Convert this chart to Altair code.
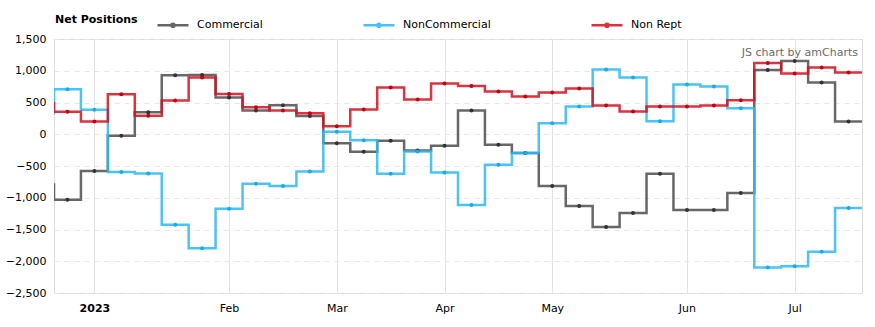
import altair as alt
import pandas as pd

# Weekly report dates (first one sits just left of the visible window)
dates = [
    "2022-12-20", "2022-12-27", "2023-01-03", "2023-01-10", "2023-01-17", "2023-01-24",
    "2023-01-31", "2023-02-07", "2023-02-14", "2023-02-21", "2023-02-28", "2023-03-07",
    "2023-03-14", "2023-03-21", "2023-03-28", "2023-04-04", "2023-04-11", "2023-04-18",
    "2023-04-25", "2023-05-02", "2023-05-09", "2023-05-16", "2023-05-23", "2023-05-30",
    "2023-06-06", "2023-06-13", "2023-06-20", "2023-06-27", "2023-07-04", "2023-07-11",
    "2023-07-18",
]
commercial = [-790, -1030, -580, -25, 345, 930, 935, 580, 373, 458, 289, -143, -275, -101,
              -254, -180, 373, -165, -296, -813, -1129, -1461, -1240, -623, -1193, -1193,
              -924, 1011, 1153, 815, 199]
noncommercial = [330, 710, 385, -595, -620, -1425, -1795, -1175, -781, -813, -586, 41, -96,
                 -623, -270, -602, -1113, -481, -294, 173, 436, 1021, 894, 205, 784, 752,
                 410, -2098, -2077, -1851, -1161]
nonrept = [490, 355, 200, 630, 290, 530, 895, 635, 426, 373, 331, 126, 389, 737, 547, 800,
           758, 673, 594, 657, 721, 452, 357, 436, 436, 452, 537, 1122, 958, 1053, 974]

series_names = ["Commercial", "NonCommercial", "Non Rept"]
series_colors = ["#4d4d4d", "#2bb8f5", "#d2101f"]
point_colors = ["#333333", "#1aa9ea", "#c4000f"]
month_ticks = [(2023, 1, 3), (2023, 2, 7), (2023, 3, 7), (2023, 4, 4),
               (2023, 5, 2), (2023, 6, 6), (2023, 7, 4)]
y_ticks = [-2500, -2000, -1500, -1000, -500, 0, 500, 1000, 1500]

rows = []
for name, vals in zip(series_names, [commercial, noncommercial, nonrept]):
    for i, (d, v) in enumerate(zip(dates, vals)):
        rows.append({"date": d, "series": name, "value": v, "idx": i})
df = pd.DataFrame(rows)

FONT = "DejaVu Sans"
x_scale = alt.Scale(
    type="utc",
    domain=[alt.DateTime(year=2022, month=12, date=23, hours=12, utc=True),
            alt.DateTime(year=2023, month=7, date=21, hours=12, utc=True)],
)
y_scale = alt.Scale(domain=[-2500, 1500], nice=False, zero=False)

x_axis = alt.Axis(
    title=None,
    values=[alt.DateTime(year=a, month=b, date=c, utc=True) for a, b, c in month_ticks],
    labelExpr="utcmonth(datum.value) == 0 ? '2023' : utcFormat(datum.value, '%b')",
    labelFontWeight=alt.condition("utcmonth(datum.value) == 0", alt.value("bold"), alt.value("normal")),
    grid=True, gridColor="#e3e3e3", gridWidth=1,
    ticks=False, domain=False, labelPadding=9, labelFontSize=11, labelFont=FONT,
    labelColor="#000000",
)
y_axis = alt.Axis(
    title=None, values=y_ticks, format=",.0f", grid=True, gridColor="#e6e6e6",
    gridDash=[5, 5], gridWidth=1, ticks=False, domain=False, labelPadding=8,
    labelFontSize=11, labelFont=FONT, labelColor="#000000",
)

color_scale = alt.Scale(domain=series_names, range=series_colors)
point_scale = alt.Scale(domain=series_names, range=point_colors)

legend_symbol = ("M-1,0L1,0M-0.1,0a0.1,0.1 0 1,0 0.2,0a0.1,0.1 0 1,0 -0.2,0Z")

base = alt.Chart(df)

lines = base.transform_calculate(
    start="toDate(datum.date) - 3.5*864e5",
    end="toDate(datum.date) + 3.5*864e5",
).transform_fold(
    ["start", "end"], as_=["edge", "t"]
).transform_calculate(
    ord="datum.idx*2 + (datum.edge == 'end' ? 1 : 0)"
).mark_line(strokeWidth=2.5, opacity=0.85, clip=True, strokeJoin="miter").encode(
    x=alt.X("t:T", scale=x_scale, axis=x_axis),
    y=alt.Y("value:Q", scale=y_scale, axis=y_axis),
    color=alt.Color(
        "series:N", scale=color_scale, sort=series_names,
        legend=alt.Legend(
            title="Net Positions", titleOrient="left", orient="none",
            direction="horizontal", legendX=1, legendY=-31,
            titleFontWeight="bold", titleFontSize=11, titleFont=FONT, titleColor="#000",
            titlePadding=18, titleBaseline="middle", titleAnchor="middle",
            labelFontSize=11, labelFont=FONT, labelColor="#000", labelOffset=7,
            symbolType=legend_symbol, symbolSize=961, symbolStrokeWidth=2.5,
            columnPadding=95, padding=0,
        ),
    ),
    order=alt.Order("ord:Q"),
)

points = base.mark_circle(size=16, opacity=1, clip=True).encode(
    x=alt.X("date:T", scale=x_scale, axis=x_axis),
    y=alt.Y("value:Q", scale=y_scale, axis=y_axis),
    color=alt.Color("series:N", scale=point_scale, legend=None),
)

credit = alt.Chart(pd.DataFrame({"t": ["JS chart by amCharts"]})).mark_text(
    align="right", baseline="middle", font=FONT, fontSize=11, color="#6b6b6b"
).encode(text="t:N", x=alt.value(804), y=alt.value(14))

chart = alt.layer(lines, points, credit).resolve_scale(color="independent").properties(
    width=808, height=254,
    autosize=alt.AutoSizeParams(type="none"),
    padding={"left": 54, "top": 39, "right": 13, "bottom": 34},
).configure_view(stroke=None).configure(background="white")

chart.save("out.html", embed_options={"renderer": "svg", "actions": False})
